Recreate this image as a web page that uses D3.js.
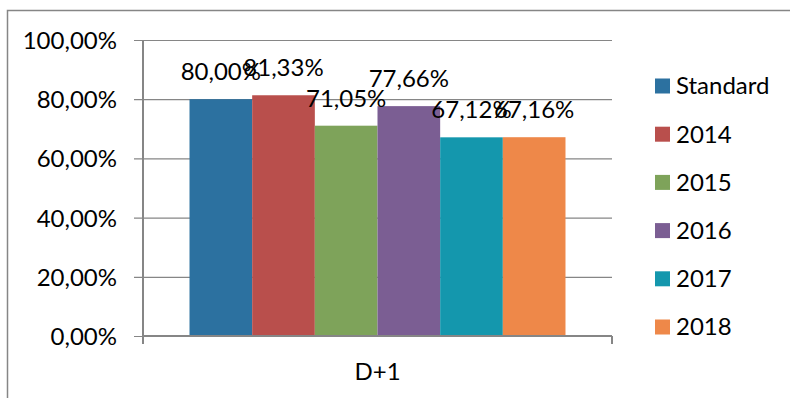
<!DOCTYPE html>
<html>
<head>
<meta charset="utf-8">
<script src="https://cdn.jsdelivr.net/npm/d3@7"></script>
<style>
  html, body { margin: 0; padding: 0; background: #fff; }
  svg { display: block; font-family: Lato, "Open Sans", sans-serif; }
</style>
</head>
<body>
<svg id="chart" width="790" height="398"></svg>
<script>
// Category, series and values
const categories = ["D+1"];
const seriesNames = ["Standard", "2014", "2015", "2016", "2017", "2018"];
const seriesValues = [0.80, 0.8133, 0.7105, 0.7766, 0.6712, 0.6716];
const seriesColors = ["#2c71a0", "#b94f4c", "#7ea35a", "#7b5e93", "#1497ad", "#ee8849"];
const yTicks = [0, 0.2, 0.4, 0.6, 0.8, 1.0];

const fmt = v => d3.format(".2f")(v * 100).replace(".", ",") + "%";

const svg = d3.select("#chart");
const plot = { left: 143, right: 612, top: 40, bottom: 336 };
const fontSize = 24;
const gridColor = "#868686";

// Outer chart frame
svg.append("rect")
  .attr("x", 7.5).attr("y", 10.5)
  .attr("width", 800).attr("height", 400)
  .attr("fill", "none").attr("stroke", gridColor).attr("stroke-width", 1.5);

const y = d3.scaleLinear().domain([0, 1]).range([plot.bottom, plot.top]);
const x0 = d3.scaleBand().domain(categories)
  .range([plot.left, plot.right]).paddingInner(0).paddingOuter(0.1237);
const x1 = d3.scaleBand().domain(seriesNames).range([0, x0.bandwidth()]);

// Gridlines and y ticks
const yAxis = d3.axisLeft(y).tickValues(yTicks).tickFormat(fmt)
  .tickSize(-(plot.right - plot.left)).tickPadding(26);
const gy = svg.append("g").attr("transform", `translate(${plot.left},0)`).call(yAxis);
gy.select(".domain").remove();
gy.selectAll(".tick line")
  .attr("x1", -9).attr("stroke", gridColor).attr("stroke-width", 1.2);
gy.selectAll(".tick text")
  .attr("x", -26)
  .attr("font-size", fontSize).attr("fill", "#000")
  .attr("font-family", "Lato, sans-serif").attr("dy", "0.35em");

// Bars
const group = svg.append("g");
categories.forEach(cat => {
  const g = group.append("g").attr("transform", `translate(${x0(cat)},0)`);
  g.selectAll("rect").data(seriesNames).join("rect")
    .attr("x", (d) => x1(d))
    .attr("y", (d, i) => y(seriesValues[i]))
    .attr("width", x1.bandwidth())
    .attr("height", (d, i) => y(0) - y(seriesValues[i]))
    .attr("fill", (d, i) => seriesColors[i]);
  g.selectAll("text.val").data(seriesNames).join("text")
    .attr("class", "val")
    .attr("x", d => x1(d) + x1.bandwidth() / 2)
    .attr("y", (d, i) => y(seriesValues[i]) - 19)
    .attr("text-anchor", "middle")
    .attr("font-size", fontSize)
    .attr("fill", "#000")
    .text((d, i) => fmt(seriesValues[i]));
});

// Axes lines
svg.append("line")
  .attr("x1", plot.left).attr("x2", plot.left)
  .attr("y1", plot.top).attr("y2", plot.bottom + 8)
  .attr("stroke", gridColor).attr("stroke-width", 2);
svg.append("line")
  .attr("x1", plot.left).attr("x2", plot.right)
  .attr("y1", plot.bottom).attr("y2", plot.bottom)
  .attr("stroke", gridColor).attr("stroke-width", 2);
svg.append("line")
  .attr("x1", plot.right).attr("x2", plot.right)
  .attr("y1", plot.bottom).attr("y2", plot.bottom + 8)
  .attr("stroke", gridColor).attr("stroke-width", 2);

// Category label
categories.forEach(cat => {
  svg.append("text")
    .attr("x", x0(cat) + x0.bandwidth() / 2)
    .attr("y", 380)
    .attr("text-anchor", "middle")
    .attr("font-size", fontSize)
    .attr("fill", "#000")
    .text(cat);
});

// Legend
const legend = svg.append("g").attr("transform", "translate(655,0)");
const items = legend.selectAll("g").data(seriesNames).join("g")
  .attr("transform", (d, i) => `translate(0,${86 + i * 48.2})`);
items.append("rect")
  .attr("x", 0).attr("y", -7.5).attr("width", 15).attr("height", 15)
  .attr("fill", (d, i) => seriesColors[i]);
items.append("text")
  .attr("x", 21).attr("y", 0).attr("dy", "0.35em")
  .attr("font-size", fontSize).attr("fill", "#000")
  .text(d => d);
</script>
</body>
</html>
